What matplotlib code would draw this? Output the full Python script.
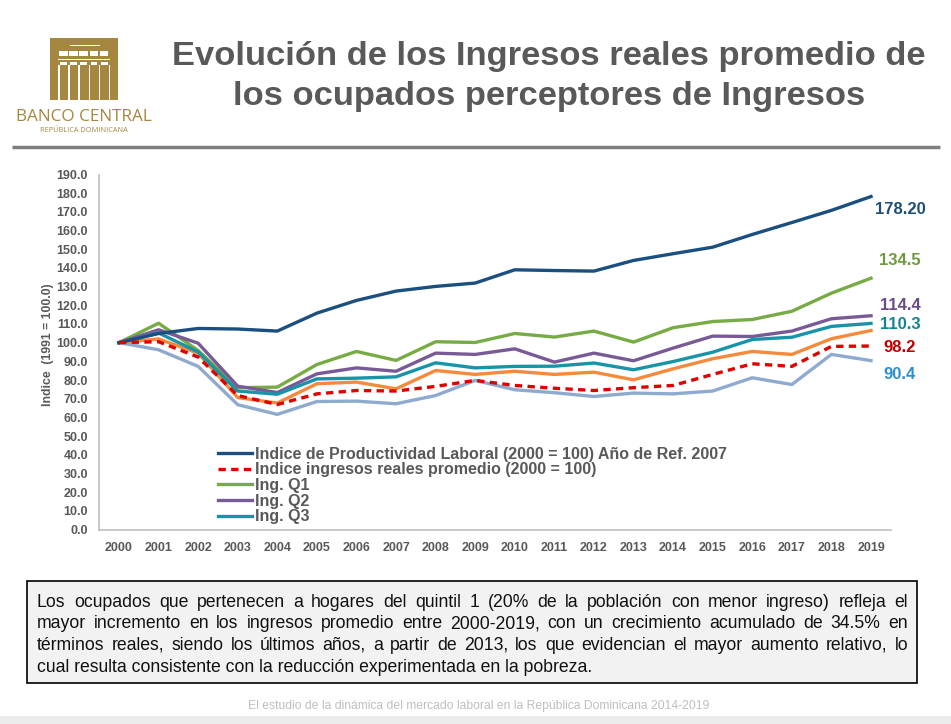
import matplotlib
matplotlib.use("Agg")
import matplotlib.pyplot as plt
from matplotlib.patches import Rectangle
from matplotlib.font_manager import FontProperties

plt.rcParams['font.family'] = ['Liberation Sans', 'DejaVu Sans']

# ---------------- data ----------------
years = ["2000", "2001", "2002", "2003", "2004", "2005", "2006", "2007", "2008", "2009",
         "2010", "2011", "2012", "2013", "2014", "2015", "2016", "2017", "2018", "2019"]
productividad = [100, 104.9, 107.6, 107.3, 106.2, 115.8, 122.6, 127.6, 130.1, 131.9,
                 139.0, 138.6, 138.3, 144.0, 147.6, 151.1, 157.9, 164.3, 170.8, 178.2]
ingresos_prom = [100, 100.5, 92.3, 71.7, 66.9, 72.6, 74.4, 74.1, 76.6, 79.8,
                 77.1, 75.6, 74.4, 75.9, 77.1, 83.0, 88.7, 87.3, 98.0, 98.2]
ing_q1 = [100, 110.4, 95.8, 75.9, 76.2, 88.3, 95.3, 90.5, 100.5, 100.1,
          104.9, 103.0, 106.2, 100.3, 108.0, 111.3, 112.4, 116.8, 126.5, 134.5]
ing_q2 = [100, 106.9, 99.7, 76.7, 73.3, 83.3, 86.5, 84.7, 94.4, 93.7,
          96.7, 89.6, 94.4, 90.3, 97.1, 103.5, 103.3, 106.2, 112.8, 114.4]
ing_q3 = [100, 105.2, 95.0, 74.1, 72.4, 80.6, 81.0, 81.7, 89.2, 86.5,
          87.3, 87.4, 89.1, 85.5, 89.9, 94.9, 101.7, 102.9, 108.7, 110.3]
ing_q4 = [100, 102.0, 94.4, 70.6, 67.7, 78.0, 78.9, 75.3, 85.1, 83.0,
          84.7, 83.0, 84.2, 80.1, 86.0, 91.4, 95.3, 93.7, 102.1, 106.5]
ing_q5 = [100, 96.2, 87.3, 66.8, 61.6, 68.5, 68.7, 67.3, 71.7, 79.8,
          74.8, 73.2, 71.2, 73.0, 72.6, 74.1, 81.2, 77.6, 93.7, 90.4]

series_labels = ["Indice de Productividad Laboral (2000 = 100) Año de Ref. 2007",
                 "Indice ingresos reales promedio (2000 = 100)",
                 "Ing. Q1", "Ing. Q2", "Ing. Q3", "Ing. Q4", "Ing. Q5"]
end_labels = ["178.20", "134.5", "114.4", "110.3", "98.2", "90.4"]

title_lines = ["Evolución de los Ingresos reales promedio de",
               "los ocupados perceptores de Ingresos"]
body_lines = [
    "Los ocupados que pertenecen a hogares del quintil 1 (20% de la población con menor ingreso) refleja el",
    "mayor incremento en los ingresos promedio entre 2000-2019, con un crecimiento acumulado de 34.5% en",
    "términos reales, siendo los últimos años, a partir de 2013, los que evidencian el mayor aumento relativo, lo",
    "cual resulta consistente con la reducción experimentada en la pobreza.",
]
footer = "El estudio de la dinámica del mercado laboral en la República Dominicana 2014-2019"

# ---------------- figure ----------------
W, H = 951, 724
fig = plt.figure(figsize=(W / 100, H / 100), dpi=100)
fig.patch.set_facecolor("white")

ov = fig.add_axes([0, 0, 1, 1], zorder=0)
ov.set_xlim(0, W)
ov.set_ylim(H, 0)
ov.axis("off")

GOLD = "#a5873f"
GRAY = "#595959"

# logo
ov.add_patch(Rectangle((50, 38), 68, 62, facecolor=GOLD, edgecolor="none"))
ov.add_patch(Rectangle((70, 44.5), 30, 1.6, facecolor="white", edgecolor="none"))
for i in range(5):
    ov.add_patch(Rectangle((59 + i * 10.2, 51), 8.6, 5, facecolor="white", edgecolor="none"))
ov.add_patch(Rectangle((58, 58.5), 52, 1.4, facecolor="white", edgecolor="none"))
for i in range(5):
    ov.add_patch(Rectangle((60 + i * 10.2, 61.5), 6.8, 3, facecolor="white", edgecolor="none"))
for xg in [58, 68, 78.3, 88.5, 98.7, 108.5]:
    ov.add_patch(Rectangle((xg, 65), 1.6, 35, facecolor="white", edgecolor="none"))
ov.text(84, 117, "BANCO CENTRAL", ha="center", va="center", fontsize=12.3,
        color=GOLD, family=["Open Sans", "DejaVu Sans"])
ov.text(84, 130, "REPÚBLICA DOMINICANA", ha="center", va="center", fontsize=5.3,
        color=GOLD, family=["Open Sans", "DejaVu Sans"])

# title
ov.text(549, 57, title_lines[0], ha="center", va="center", fontsize=24.8,
        fontweight="bold", color=GRAY)
ov.text(549, 97, title_lines[1], ha="center", va="center", fontsize=24.8,
        fontweight="bold", color=GRAY)
ov.plot([12, 940], [147, 147], color="#7f7f7f", lw=2.5, solid_capstyle="butt")

# text box
ov.add_patch(Rectangle((27, 581), 890, 102, facecolor="#f2f2f2", edgecolor="black", lw=1.2))

# footer band + text
ov.add_patch(Rectangle((0, 716), W, 8, facecolor="#ececec", edgecolor="none"))
ov.text(479, 706, footer, ha="center", va="center", fontsize=8.7, color="#bfbfbf")

# ---------------- chart ----------------
ax = fig.add_axes([99.2 / W, 1 - 529.5 / H, (890.8 - 99.2) / W, (529.5 - 174.5) / H], zorder=1)
ax.patch.set_alpha(0)
x = list(range(len(years)))

colors = ["#1b4f80", "#e00000", "#77ab43", "#7a5a96", "#1794a8", "#f58a3c", "#8eaacf"]
data = [productividad, ingresos_prom, ing_q1, ing_q2, ing_q3, ing_q4, ing_q5]
zord = [5, 8, 4, 4, 4, 3, 3]
handles = []
for i, (d, c) in enumerate(zip(data, colors)):
    ls = (0, (2.2, 1.6)) if i == 1 else "-"
    h, = ax.plot(x, d, color=c, lw=2.4, ls=ls, zorder=zord[i], label=series_labels[i],
                 solid_joinstyle="round")
    handles.append(h)

ax.set_xlim(-0.5, len(years) - 0.5)
ax.set_ylim(0, 190)
ax.set_yticks(range(0, 191, 10))
ax.set_yticklabels([f"{v:.1f}" for v in range(0, 191, 10)])
ax.set_xticks(x)
ax.set_xticklabels(years)
ax.tick_params(axis="both", length=0, labelsize=9, labelcolor=GRAY)
ax.tick_params(axis="y", pad=8)
ax.tick_params(axis="x", pad=9)
for lab in ax.get_xticklabels() + ax.get_yticklabels():
    lab.set_fontweight("bold")
for s in ["top", "right"]:
    ax.spines[s].set_visible(False)
for s in ["left", "bottom"]:
    ax.spines[s].set_color("#bfbfbf")
    ax.spines[s].set_linewidth(1.2)

ax.set_ylabel("Indice  (1991 = 100.0)", fontsize=8.8, fontweight="bold", color=GRAY)
ax.yaxis.set_label_coords(-0.057, 0.52)

# end labels
end_colors = ["#1f4e79", "#6f9a3c", "#6a4a8a", "#138591", "#c00000", "#2e8fd0"]
end_y = [171.0, 144.0, 120.0, 109.5, 97.2, 83.2]
for t, c, yy in zip(end_labels, end_colors, end_y):
    ax.text(19.73, yy, t, ha="center", va="center", fontsize=12, fontweight="bold",
            color=c, clip_on=False)

leg = ax.legend(handles=handles[:5], loc="upper left",
                bbox_to_anchor=(218 / W, 1 - 446.5 / H), bbox_transform=fig.transFigure,
                frameon=False, fontsize=11.5, handlelength=2.1, handletextpad=0.2,
                labelspacing=0.045, borderpad=0, borderaxespad=0)
for t in leg.get_texts():
    t.set_fontweight("bold")
    t.set_color(GRAY)

# ---------------- justified body text ----------------
fig.canvas.draw()
renderer = fig.canvas.get_renderer()
fp = FontProperties(family=["Liberation Sans", "DejaVu Sans"], size=12.7)
x0, x1 = 37, 908
line_y = [607, 628.5, 650, 671.5]


def wwidth(s):
    w, h, d = renderer.get_text_width_height_descent(s, fp, ismath=False)
    return w


for k, (line, yy) in enumerate(zip(body_lines, line_y)):
    words = line.split(" ")
    if k < len(body_lines) - 1:
        widths = [wwidth(w) for w in words]
        gap = (x1 - x0 - sum(widths)) / (len(words) - 1)
        cx = x0
        for w, ww in zip(words, widths):
            ov.text(cx, yy, w, ha="left", va="baseline", fontproperties=fp, color="#111111")
            cx += ww + gap
    else:
        ov.text(x0, yy, line, ha="left", va="baseline", fontproperties=fp, color="#111111")

fig.savefig("out.png", dpi=100)
